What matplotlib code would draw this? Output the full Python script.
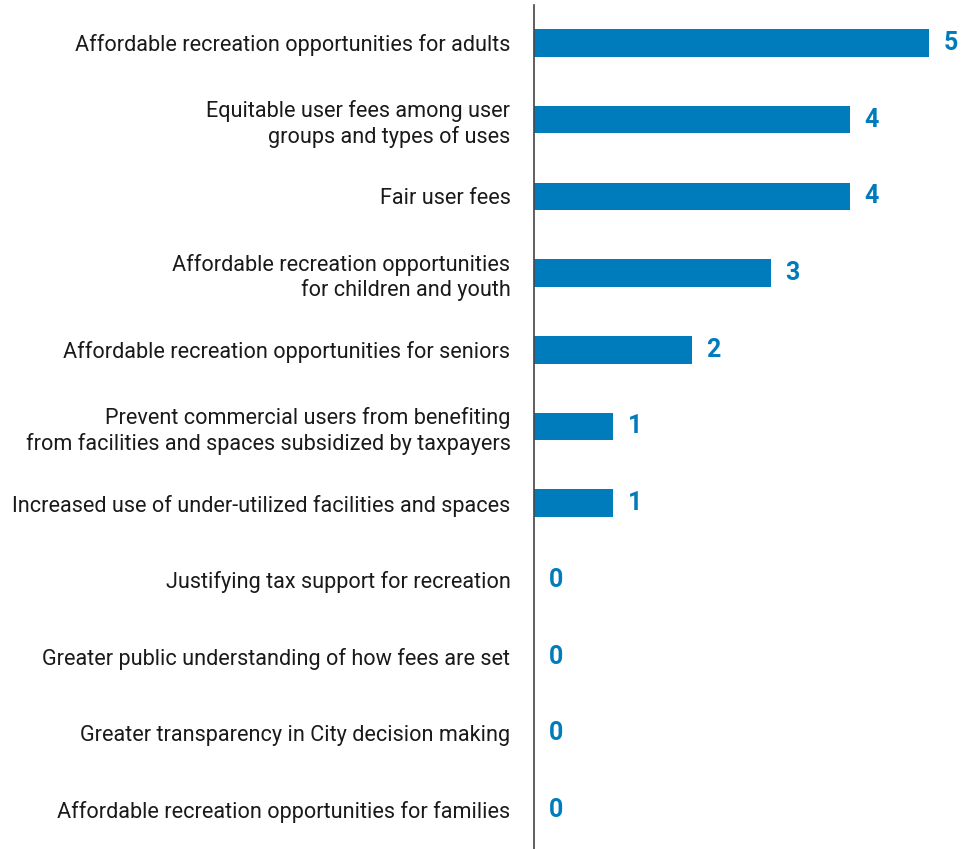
import matplotlib
matplotlib.use("Agg")
import matplotlib.pyplot as plt
from matplotlib import font_manager

categories = [
    "Affordable recreation opportunities for adults",
    "Equitable user fees among user\ngroups and types of uses",
    "Fair user fees",
    "Affordable recreation opportunities\nfor children and youth",
    "Affordable recreation opportunities for seniors",
    "Prevent commercial users from benefiting\nfrom facilities and spaces subsidized by taxpayers",
    "Increased use of under-utilized facilities and spaces",
    "Justifying tax support for recreation",
    "Greater public understanding of how fees are set",
    "Greater transparency in City decision making",
    "Affordable recreation opportunities for families",
]
counts = [5, 4, 4, 3, 2, 1, 1, 0, 0, 0, 0]

BAR_COLOR = "#007bbb"

installed = {f.name for f in font_manager.fontManager.ttflist}
label_font = "Liberation Sans Narrow" if "Liberation Sans Narrow" in installed else "Roboto"
label_size = 15.5 if label_font == "Liberation Sans Narrow" else 15.6

fig = plt.figure(figsize=(9.78, 8.49), dpi=100)
W, H = 978, 849
ax = fig.add_axes([534 / W, 0, 1 - 534 / W, 1 - 5 / H])

y = list(range(len(categories)))
ax.barh(y, counts, height=0.36, color=BAR_COLOR)
ax.set_ylim(len(categories) - 0.49, -0.495)
ax.set_xlim(0, (W - 534) / 79.0)

for yi, v in zip(y, counts):
    ax.annotate(str(v), (v, yi), xytext=(10.5, 0), textcoords="offset points",
                ha="left", va="center", color=BAR_COLOR,
                fontsize=18, fontweight="bold", family=label_font)

ax.set_yticks(y)
ax.set_yticklabels(categories, fontsize=label_size, family=label_font,
                   color="#1a1a1a", linespacing=1.22)
ax.tick_params(axis="y", length=0, pad=17)
ax.set_xticks([])

for s in ("top", "right", "bottom"):
    ax.spines[s].set_visible(False)
ax.spines["left"].set_color("#444444")
ax.spines["left"].set_linewidth(1.2)

fig.savefig("out.png", dpi=100)
